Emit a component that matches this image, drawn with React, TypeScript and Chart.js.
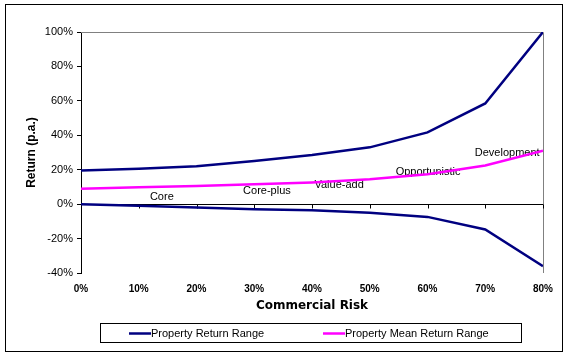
import React, { useEffect, useRef } from "react";
import { Chart, registerables } from "chart.js";

Chart.register(...registerables);

const riskLevels = [0, 10, 20, 30, 40, 50, 60, 70, 80];
const upperRange = [19.5, 20.5, 22, 25, 28.5, 33, 41.7, 58.5, 100];
const lowerRange = [0, -1, -2, -2.9, -3.5, -5, -7.4, -14.7, -36];
const meanReturn = [9, 9.8, 10.5, 11.5, 12.6, 14.4, 17.4, 22.5, 31];

const yMin = -40;
const yMax = 100;
const yStep = 20;

const styleNames = ["Core", "Core-plus", "Value-add", "Opportunistic", "Development"];
const styleRisk = [14, 32.2, 44.7, 60.1, 73.8];
const styleReturn = [4.1, 7.6, 11, 18.6, 29.7];

const NAVY = "#000080";
const PINK = "#FF00FF";
const ARIAL = "Arial, 'Liberation Sans', sans-serif";

const decorPlugin = {
  id: "decor",
  beforeDatasetsDraw(chart: any) {
    const { ctx, chartArea, scales } = chart;
    const x = scales.x;
    const y = scales.y;
    ctx.save();
    // plot border (top & right, grey)
    ctx.strokeStyle = "#808080";
    ctx.lineWidth = 1;
    ctx.beginPath();
    ctx.moveTo(chartArea.left, chartArea.top + 0.5);
    ctx.lineTo(chartArea.right + 0.5, chartArea.top + 0.5);
    ctx.lineTo(chartArea.right + 0.5, chartArea.bottom);
    ctx.stroke();
    // zero line with ticks
    const y0 = Math.round(y.getPixelForValue(0)) + 0.5;
    ctx.strokeStyle = "#000";
    ctx.beginPath();
    ctx.moveTo(chartArea.left, y0);
    ctx.lineTo(chartArea.right, y0);
    riskLevels.forEach((r) => {
      const px = Math.round(x.getPixelForValue(r)) + 0.5;
      ctx.moveTo(px, y0);
      ctx.lineTo(px, y0 + 4);
    });
    ctx.stroke();
    // style labels
    ctx.fillStyle = "#000";
    ctx.font = `11px ${ARIAL}`;
    ctx.textAlign = "center";
    ctx.textBaseline = "middle";
    styleNames.forEach((name, i) => {
      ctx.fillText(name, x.getPixelForValue(styleRisk[i]), y.getPixelForValue(styleReturn[i]));
    });
    ctx.restore();
  },
  afterDraw(chart: any) {
    const { ctx } = chart;
    ctx.save();
    // outer frame
    ctx.strokeStyle = "#000";
    ctx.lineWidth = 1;
    ctx.strokeRect(5.5, 4.5, 557, 347);
    // legend box
    const lx = 100, ly = 323, lw = 421, lh = 19;
    ctx.fillStyle = "#fff";
    ctx.fillRect(lx, ly, lw, lh);
    ctx.strokeRect(lx + 0.5, ly + 0.5, lw, lh);
    const items = chart.data.datasets.filter((d: any) => !d.hideInLegend);
    const starts = [129, 323];
    ctx.font = `11px ${ARIAL}`;
    ctx.textBaseline = "middle";
    ctx.textAlign = "left";
    items.forEach((d: any, i: number) => {
      const sx = starts[i];
      const cy = ly + lh / 2 + 1;
      ctx.strokeStyle = d.borderColor;
      ctx.lineWidth = 2.5;
      ctx.beginPath();
      ctx.moveTo(sx, cy);
      ctx.lineTo(sx + 22, cy);
      ctx.stroke();
      ctx.fillStyle = "#000";
      ctx.fillText(d.label, sx + 22, cy);
    });
    ctx.restore();
  },
};

export default function App() {
  const ref = useRef<HTMLCanvasElement | null>(null);
  useEffect(() => {
    if (!ref.current) return;
    const toPts = (vals: number[]) => riskLevels.map((r, i) => ({ x: r, y: vals[i] }));
    const chart = new Chart(ref.current, {
      type: "line",
      data: {
        datasets: [
          {
            label: "Property Return Range",
            data: toPts(upperRange),
            borderColor: NAVY,
            backgroundColor: NAVY,
            borderWidth: 2.5,
            pointRadius: 0,
            tension: 0,
          },
          {
            label: "Property Mean Return Range",
            data: toPts(meanReturn),
            borderColor: PINK,
            backgroundColor: PINK,
            borderWidth: 2.5,
            pointRadius: 0,
            tension: 0,
          },
          {
            label: "Property Return Range (low)",
            data: toPts(lowerRange),
            borderColor: NAVY,
            backgroundColor: NAVY,
            borderWidth: 2.5,
            pointRadius: 0,
            tension: 0,
            hideInLegend: true,
          } as any,
        ],
      },
      options: {
        animation: false,
        responsive: false,
        devicePixelRatio: 1,
        layout: { padding: { top: 32, right: 25, left: 0, bottom: 0 } },
        plugins: { legend: { display: false }, tooltip: { enabled: false } },
        scales: {
          x: {
            type: "linear",
            min: 0,
            max: 80,
            grid: { display: false, drawTicks: false },
            border: { display: false },
            ticks: {
              stepSize: 10,
              padding: 10,
              color: "#000",
              font: { family: ARIAL, size: 10, weight: "bold" },
              callback: (v: any) => `${v}%`,
              maxRotation: 0,
            },
            title: {
              display: true,
              text: "Commercial Risk",
              color: "#000",
              font: { family: "'DejaVu Sans', Verdana, sans-serif", size: 12, weight: "bold" },
              padding: { top: 0, bottom: 44 },
            },
            afterFit: (s: any) => {
              s.height = 84;
            },
          },
          y: {
            min: yMin,
            max: yMax,
            grid: { display: true, drawOnChartArea: false, drawTicks: true, tickLength: 4, color: "#000" },
            border: { display: true, color: "#000", width: 1 },
            ticks: {
              stepSize: yStep,
              padding: 4,
              color: "#000",
              font: { family: ARIAL, size: 11 },
              callback: (v: any) => `${v}%`,
            },
            title: {
              display: true,
              text: "Return (p.a.)",
              color: "#000",
              font: { family: ARIAL, size: 12, weight: "bold" },
              padding: { top: 24, bottom: 0 },
            },
            afterFit: (s: any) => {
              s.width = 81;
            },
          },
        },
      },
      plugins: [decorPlugin],
    });
    return () => chart.destroy();
  }, []);
  return (
    <div style={{ position: "absolute", left: 0, top: 0, width: 568, height: 357, background: "#fff" }}>
      <canvas ref={ref} width={568} height={357} style={{ display: "block" }} />
    </div>
  );
}
